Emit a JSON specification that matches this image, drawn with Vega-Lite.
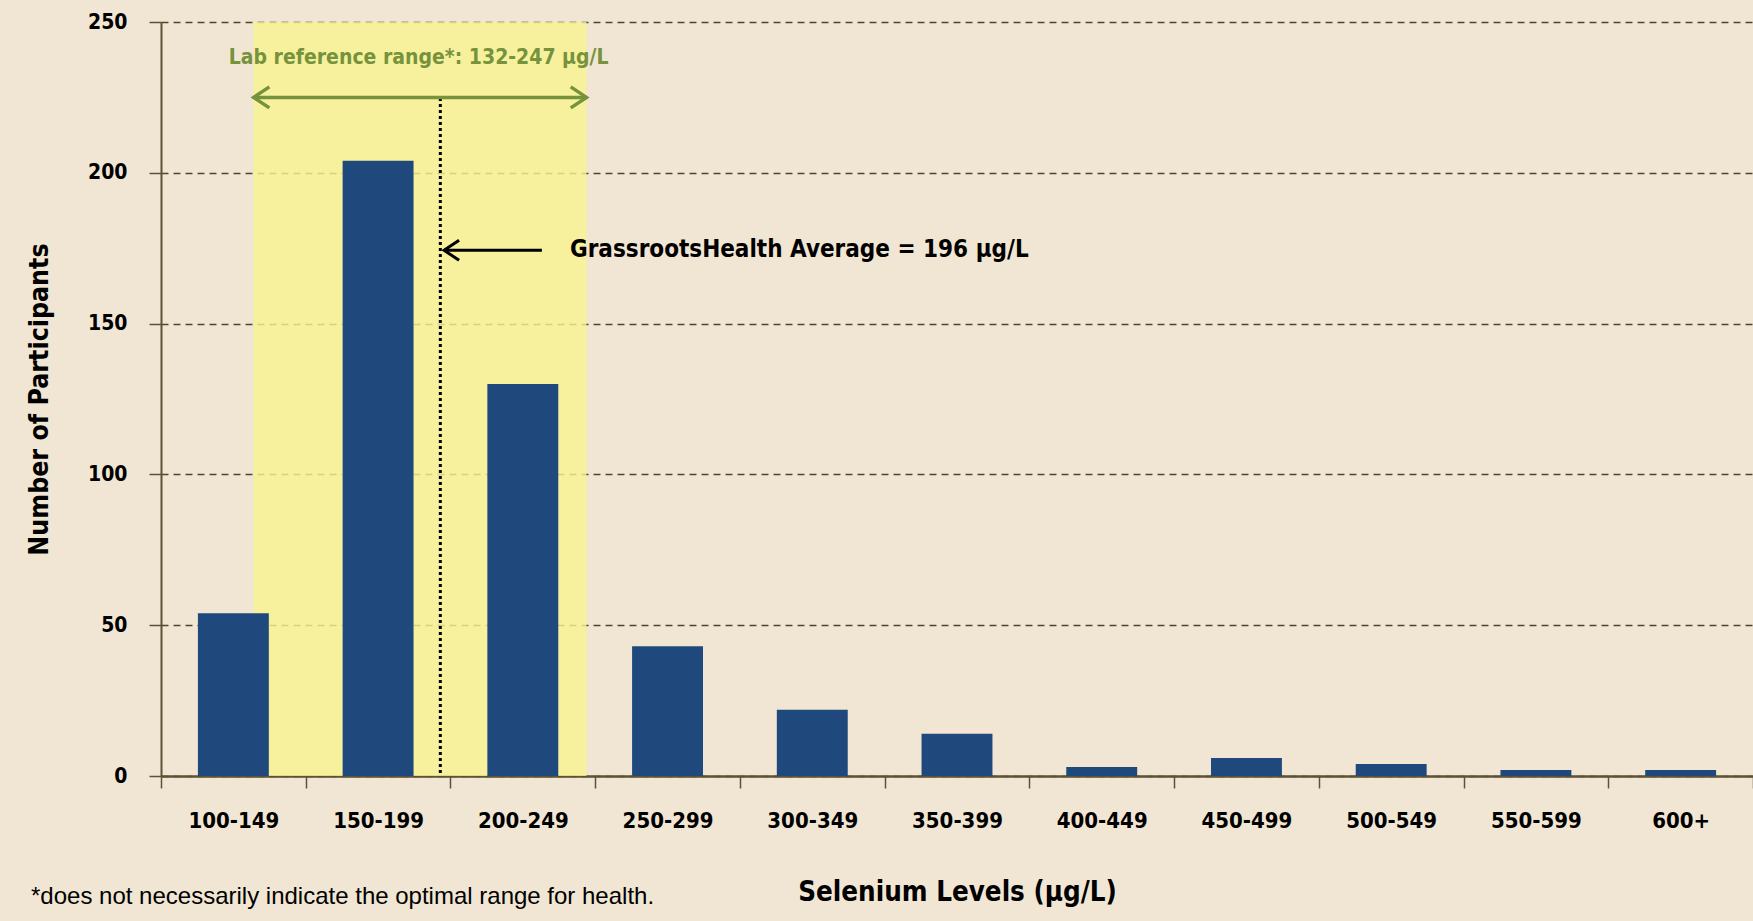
{
  "$schema": "https://vega.github.io/schema/vega-lite/v6.json",
  "width": 1592,
  "height": 754,
  "autosize": {"type": "none"},
  "padding": {"left": 161, "top": 22, "right": 0, "bottom": 145},
  "background": "#f1e6d3",
  "config": {
    "view": {"stroke": null},
    "font": "'DejaVu Sans Condensed', 'Liberation Sans Narrow', 'Roboto Condensed', sans-serif",
    "axis": {
      "domainColor": "#5d5235",
      "domainWidth": 2,
      "tickColor": "#5d5235",
      "tickWidth": 1.5,
      "tickSize": 12,
      "labelColor": "#000000",
      "labelFont": "'DejaVu Sans Condensed', 'Liberation Sans Narrow', 'Roboto Condensed', sans-serif",
      "labelFontWeight": "bold",
      "titleFont": "'DejaVu Sans Condensed', 'Liberation Sans Narrow', 'Roboto Condensed', sans-serif",
      "titleFontWeight": "bold",
      "titleColor": "#000000"
    }
  },
  "datasets": {
    "bars": [
      {"range": "100-149", "count": 54},
      {"range": "150-199", "count": 204},
      {"range": "200-249", "count": 130},
      {"range": "250-299", "count": 43},
      {"range": "300-349", "count": 22},
      {"range": "350-399", "count": 14},
      {"range": "400-449", "count": 3},
      {"range": "450-499", "count": 6},
      {"range": "500-549", "count": 4},
      {"range": "550-599", "count": 2},
      {"range": "600+", "count": 2}
    ],
    "refrange": [{"lo": 132, "hi": 247, "ylo": 0, "yhi": 250, "yarrow": 225}],
    "avg": [{"x": 196.5, "ytop": 225, "ybot": 1}],
    "blackarrow": [{"x1": 197.8, "x2": 231.6, "y": 174.3}],
    "greentext": [{"label": "Lab reference range*: 132-247 μg/L", "x": 189, "y": 238}],
    "blacktext": [{"label": "GrassrootsHealth Average = 196 μg/L", "x": 241.3, "y": 174.3}],
    "footnote": [{"label": "*does not necessarily indicate the optimal range for health.", "x": 55.1, "y": -40}]
  },
  "resolve": {"scale": {"x": "independent"}, "axis": {"x": "independent"}},
  "layer": [
    {
      "data": {"name": "refrange"},
      "mark": {"type": "rect", "color": "#f9f490", "opacity": 0.8},
      "encoding": {
        "x": {"field": "lo", "type": "quantitative", "scale": {"domain": [100, 650], "nice": false, "zero": false}, "axis": null},
        "x2": {"field": "hi"},
        "y": {"field": "ylo", "type": "quantitative", "scale": {"domain": [0, 250], "nice": false},
          "axis": {
            "values": [0, 50, 100, 150, 200, 250],
            "title": "Number of Participants",
            "titleFontSize": 26.5,
            "titlePadding": 34,
            "labelFontSize": 21,
            "labelPadding": 22,
            "grid": true,
            "gridColor": "#4f4630",
            "gridDash": [7, 5],
            "gridWidth": 1.5
          }},
        "y2": {"field": "yhi"}
      }
    },
    {
      "data": {"name": "bars"},
      "mark": {"type": "bar", "color": "#1f497d", "width": {"band": 0.49}},
      "encoding": {
        "x": {
          "field": "range", "type": "nominal",
          "sort": ["100-149","150-199","200-249","250-299","300-349","350-399","400-449","450-499","500-549","550-599","600+"],
          "scale": {"paddingInner": 0, "paddingOuter": 0},
          "axis": {
            "title": "Selenium Levels (μg/L)",
            "titleFontSize": 27.5,
            "titlePadding": 47,
            "labelFontSize": 22,
            "labelPadding": 22,
            "labelAngle": 0,
            "tickBand": "extent",
            "domainWidth": 2.5
          }
        },
        "y": {"field": "count", "type": "quantitative"}
      }
    },
    {
      "layer": [
        {
          "data": {"name": "avg"},
          "mark": {"type": "rule", "color": "#000000", "strokeWidth": 3, "strokeDash": [3, 3]},
          "encoding": {
            "x": {"field": "x", "type": "quantitative", "scale": {"domain": [100, 650], "nice": false, "zero": false}, "axis": null},
            "y": {"field": "ybot", "type": "quantitative"},
            "y2": {"field": "ytop"}
          }
        },
        {
          "data": {"name": "refrange"},
          "mark": {"type": "rule", "color": "#76923c", "strokeWidth": 3.5},
          "encoding": {
            "x": {"field": "lo", "type": "quantitative", "axis": null},
            "x2": {"field": "hi"},
            "y": {"field": "yarrow", "type": "quantitative"}
          }
        },
        {
          "data": {"name": "refrange"},
          "mark": {"type": "point", "shape": "M1.5,-1L0,0L1.5,1", "filled": false, "stroke": "#76923c", "strokeWidth": 3.5, "size": 441, "opacity": 1},
          "encoding": {
            "x": {"field": "lo", "type": "quantitative", "axis": null},
            "y": {"field": "yarrow", "type": "quantitative"}
          }
        },
        {
          "data": {"name": "refrange"},
          "mark": {"type": "point", "shape": "M-1.5,-1L0,0L-1.5,1", "filled": false, "stroke": "#76923c", "strokeWidth": 3.5, "size": 441, "opacity": 1},
          "encoding": {
            "x": {"field": "hi", "type": "quantitative", "axis": null},
            "y": {"field": "yarrow", "type": "quantitative"}
          }
        },
        {
          "data": {"name": "blackarrow"},
          "mark": {"type": "rule", "color": "#000000", "strokeWidth": 3},
          "encoding": {
            "x": {"field": "x1", "type": "quantitative", "axis": null},
            "x2": {"field": "x2"},
            "y": {"field": "y", "type": "quantitative"}
          }
        },
        {
          "data": {"name": "blackarrow"},
          "mark": {"type": "point", "shape": "M1.5,-1L0,0L1.5,1", "filled": false, "stroke": "#000000", "strokeWidth": 3, "size": 400, "opacity": 1},
          "encoding": {
            "x": {"field": "x1", "type": "quantitative", "axis": null},
            "y": {"field": "y", "type": "quantitative"}
          }
        },
        {
          "data": {"name": "greentext"},
          "mark": {"type": "text", "color": "#76923c", "fontWeight": "bold", "fontSize": 21, "align": "center", "baseline": "middle"},
          "encoding": {
            "x": {"field": "x", "type": "quantitative", "axis": null},
            "y": {"field": "y", "type": "quantitative"},
            "text": {"field": "label"}
          }
        },
        {
          "data": {"name": "blacktext"},
          "mark": {"type": "text", "color": "#000000", "fontWeight": "bold", "fontSize": 24, "align": "left", "baseline": "middle"},
          "encoding": {
            "x": {"field": "x", "type": "quantitative", "axis": null},
            "y": {"field": "y", "type": "quantitative"},
            "text": {"field": "label"}
          }
        },
        {
          "data": {"name": "footnote"},
          "mark": {"type": "text", "color": "#000000", "font": "Liberation Sans", "fontSize": 24, "align": "left", "baseline": "middle"},
          "encoding": {
            "x": {"field": "x", "type": "quantitative", "axis": null},
            "y": {"field": "y", "type": "quantitative"},
            "text": {"field": "label"}
          }
        }
      ]
    }
  ]
}
